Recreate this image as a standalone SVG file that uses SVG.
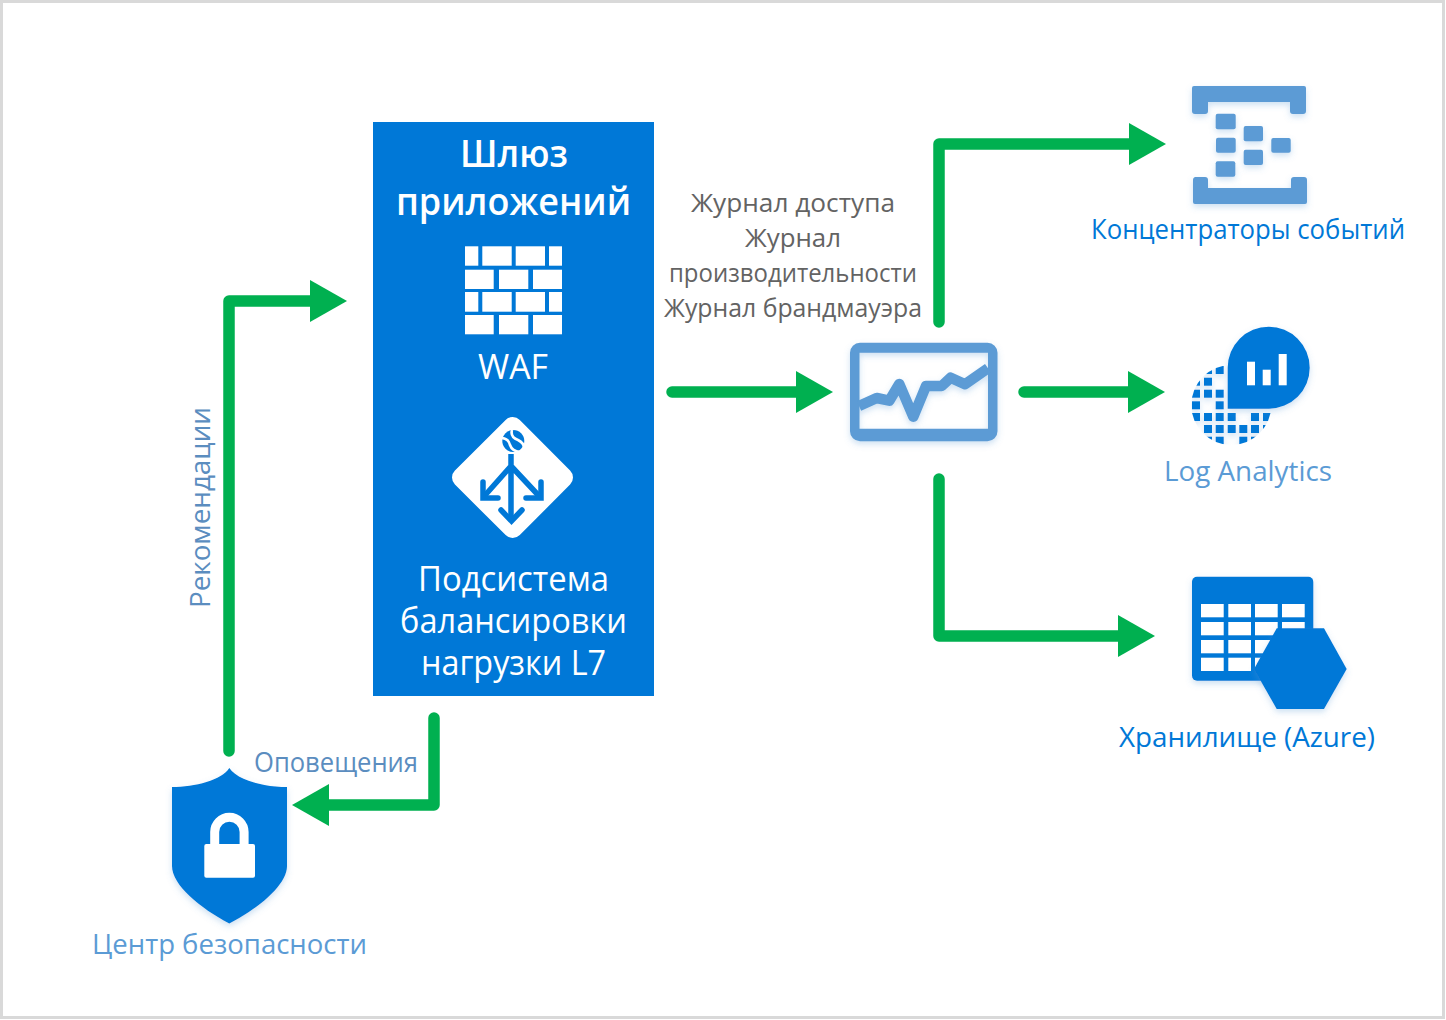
<svg xmlns="http://www.w3.org/2000/svg" width="1446" height="1020" viewBox="0 0 1446 1020">
<style>
text{font-family:"Open Sans","Noto Sans","Liberation Sans",sans-serif}
.w{fill:#fff;font-size:34px}
.t{fill:#fff;font-size:38px;font-weight:600}
.g{fill:#636363;font-size:26px}
.b{fill:#0078d7;font-size:28px}
.l{fill:#5b9bd5;font-size:28px}
.s{fill:#5b8dbf;font-size:28px}
.az{fill:#0078d7}
.lb{fill:#5b9bd5}
.wh{fill:#fff}
.link{fill:none;stroke:#00b050;stroke-width:11.5;stroke-linecap:round;stroke-linejoin:round}
.head{fill:#00b050}
</style>
<defs>
<filter id="sh" x="-15%" y="-15%" width="130%" height="130%"><feDropShadow dx="0" dy="3" stdDeviation="3" flood-color="#5b9bd5" flood-opacity="0.3"/></filter>
<clipPath id="ball"><circle cx="1231.3" cy="405" r="40"/></clipPath>
</defs>
<rect width="1446" height="1020" fill="#fff"/>
<rect x="1.5" y="1.5" width="1442" height="1016" fill="none" stroke="#d9d9d9" stroke-width="3"/>

<g id="connectors">
<path class="link" d="M229 751V301H314"/><polygon class="head" points="310,280 347,301 310,322"/>
<path class="link" d="M434 718V805H325"/><polygon class="head" points="292,805 329,784 329,826"/>
<path class="link" d="M672 392H800"/><polygon class="head" points="796,371 833,392 796,413"/>
<path class="link" d="M1024 392H1132"/><polygon class="head" points="1128,371 1165,392 1128,413"/>
<path class="link" d="M939 322V144H1132"/><polygon class="head" points="1129,123 1166,144 1129,165"/>
<path class="link" d="M939 479V636H1122"/><polygon class="head" points="1118,615 1155,636 1118,657"/>
<text class="s" transform="translate(210 608) rotate(-90)" textLength="201" lengthAdjust="spacingAndGlyphs">Рекомендации</text>
<text class="s" x="254" y="772" textLength="164" lengthAdjust="spacingAndGlyphs">Оповещения</text>
<text class="g" x="691" y="212" textLength="204" lengthAdjust="spacingAndGlyphs">Журнал доступа</text>
<text class="g" x="745" y="247" textLength="96" lengthAdjust="spacingAndGlyphs">Журнал</text>
<text class="g" x="669" y="282" textLength="248" lengthAdjust="spacingAndGlyphs">производительности</text>
<text class="g" x="664" y="317" textLength="258" lengthAdjust="spacingAndGlyphs">Журнал брандмауэра</text>
</g>

<g id="gateway">
<rect x="373" y="122" width="281" height="574" class="az"/>
<text class="t" x="460" y="167" textLength="108" lengthAdjust="spacingAndGlyphs">Шлюз</text>
<text class="t" x="396" y="215" textLength="235" lengthAdjust="spacingAndGlyphs">приложений</text>
<g class="wh">
<rect x="465" y="246.3" width="13.3" height="19.4"/><rect x="482.3" y="246.3" width="29.4" height="19.4"/><rect x="515.7" y="246.3" width="29.3" height="19.4"/><rect x="549" y="246.3" width="13" height="19.4"/>
<rect x="465" y="269.7" width="28.7" height="19.3"/><rect x="499" y="269.7" width="29.3" height="19.3"/><rect x="533" y="269.7" width="29" height="19.3"/>
<rect x="465" y="292" width="13.3" height="19.7"/><rect x="482.3" y="292" width="29.4" height="19.7"/><rect x="515.7" y="292" width="29.3" height="19.7"/><rect x="549" y="292" width="13" height="19.7"/>
<rect x="465" y="315" width="28.7" height="19.3"/><rect x="499" y="315" width="29.3" height="19.3"/><rect x="533" y="315" width="29" height="19.3"/>
</g>
<text class="w" x="478" y="379" textLength="70" lengthAdjust="spacingAndGlyphs">WAF</text>
<polygon points="512.7,427 563,477.5 512.7,528 462,477.5" fill="#fff" stroke="#fff" stroke-width="20" stroke-linejoin="round"/>
<circle cx="513.3" cy="441" r="11" class="az"/>
<path d="M502 438Q509 439 510 445Q512 451 520 452M512 430Q510 437 518 440Q524 443 524 448" fill="none" stroke="#fff" stroke-width="2.6"/>
<path d="M511 454V478M511 466L483.5 497M511 466L540 497M511 466V521" fill="none" stroke="#0078d7" stroke-width="5.5"/>
<path d="M483 482V498H498M541 482V498H526M501 510L511.5 521L522 510" fill="none" stroke="#0078d7" stroke-width="5.5" stroke-linecap="round"/>
<text class="w" x="418" y="591" textLength="191" lengthAdjust="spacingAndGlyphs">Подсистема</text>
<text class="w" x="400" y="633" textLength="227" lengthAdjust="spacingAndGlyphs">балансировки</text>
<text class="w" x="421" y="675" textLength="185" lengthAdjust="spacingAndGlyphs">нагрузки L7</text>
</g>

<g id="monitor" filter="url(#sh)">
<path class="lb" fill-rule="evenodd" d="M860 342.7H987.5a10 10 0 0 1 10 10V431.3a10 10 0 0 1-10 10H860a10 10 0 0 1-10-10V352.7a10 10 0 0 1 10-10ZM859.5 352.7V428.7H988V352.7Z"/>
<path d="M859 406L876.7 398L889.3 400.7L899.3 384L913.3 416.7L926 386H941.7L950.7 377.7L965 384.3L988 368.3" fill="none" stroke="#5b9bd5" stroke-width="10.5" stroke-linejoin="round"/>
</g>

<g id="event-hubs">
<g class="lb" filter="url(#sh)">
<path d="M1194 86H1304a2 2 0 0 1 2 2V111a3 3 0 0 1-3 3H1293a3 3 0 0 1-3-3V102H1208V111a3 3 0 0 1-3 3H1195a3 3 0 0 1-3-3V88a2 2 0 0 1 2-2Z"/>
<path d="M1195 177H1205a3 3 0 0 1 3 3V188H1291V180a3 3 0 0 1 3-3H1304a3 3 0 0 1 3 3V202a2 2 0 0 1-2 2H1195a2 2 0 0 1-2-2V180a3 3 0 0 1 2-3Z"/>
<rect x="1215.7" y="113.7" width="20" height="15.6" rx="2"/>
<rect x="1216" y="137.7" width="19.7" height="15" rx="2"/>
<rect x="1215.7" y="161.3" width="19.6" height="15.4" rx="2"/>
<rect x="1243.7" y="126" width="19.3" height="15.3" rx="2"/>
<rect x="1243.7" y="149.7" width="19.3" height="15.3" rx="2"/>
<rect x="1271.3" y="138" width="19.4" height="14.7" rx="2"/>
</g>
<text class="b" x="1091" y="239" textLength="314" lengthAdjust="spacingAndGlyphs">Концентраторы событий</text>
</g>

<g id="log-analytics">
<g class="az" clip-path="url(#ball)" filter="url(#sh)">
<rect x="1215.7" y="366" width="8" height="8"/><rect x="1204" y="366" width="8" height="8"/>
<rect x="1192" y="377.7" width="8" height="8"/><rect x="1204" y="377.7" width="8" height="8"/>
<rect x="1192" y="389.7" width="8" height="8"/><rect x="1204" y="389.7" width="8" height="8"/><rect x="1215.7" y="389.7" width="8" height="8"/>
<rect x="1192" y="401.3" width="8" height="8"/><rect x="1215.7" y="401.3" width="8" height="8"/>
<rect x="1192" y="413" width="8" height="8"/><rect x="1204" y="413" width="8" height="8"/><rect x="1215.7" y="413" width="8" height="8"/><rect x="1227.7" y="413" width="8" height="8"/><rect x="1251" y="413" width="8" height="8"/><rect x="1263" y="413" width="8" height="8"/>
<rect x="1204" y="425" width="8" height="8"/><rect x="1215.7" y="425" width="8" height="8"/><rect x="1227.7" y="425" width="8" height="8"/><rect x="1239.3" y="425" width="8" height="8"/><rect x="1251" y="425" width="8" height="8"/><rect x="1263" y="425" width="8" height="8"/>
<rect x="1204" y="436.7" width="8" height="8"/><rect x="1215.7" y="436.7" width="8" height="8"/><rect x="1239.3" y="436.7" width="8" height="8"/><rect x="1251" y="436.7" width="8" height="8"/>
</g>
<path class="az" filter="url(#sh)" d="M1227.7 408.7V367.7A41 41 0 1 1 1268.7 408.7Z"/>
<g class="wh"><rect x="1247" y="361.7" width="8" height="23.6"/><rect x="1262.7" y="369.7" width="8" height="15.6"/><rect x="1278.7" y="354" width="8" height="31.3"/></g>
<text class="l" x="1164" y="481" textLength="168" lengthAdjust="spacingAndGlyphs">Log Analytics</text>
</g>

<g id="storage">
<rect x="1192" y="576.7" width="121.3" height="104" rx="5" class="az" filter="url(#sh)"/>
<g class="wh">
<rect x="1201" y="604" width="22.7" height="13.3"/><rect x="1228.3" y="604" width="22.7" height="13.3"/><rect x="1255" y="604" width="22.7" height="13.3"/><rect x="1282" y="604" width="22.7" height="13.3"/>
<rect x="1201" y="622" width="22.7" height="13.3"/><rect x="1228.3" y="622" width="22.7" height="13.3"/><rect x="1255" y="622" width="22.7" height="13.3"/><rect x="1282" y="622" width="22.7" height="13.3"/>
<rect x="1201" y="640" width="22.7" height="13.3"/><rect x="1228.3" y="640" width="22.7" height="13.3"/><rect x="1255" y="640" width="22.7" height="13.3"/>
<rect x="1201" y="657.7" width="22.7" height="13.3"/><rect x="1228.3" y="657.7" width="22.7" height="13.3"/><rect x="1255" y="657.7" width="22.7" height="13.3"/>
</g>
<polygon class="az" filter="url(#sh)" points="1346.7,669 1324,628.3 1276.7,628.3 1254,669 1276.7,709 1324,709"/>
<text class="b" x="1119" y="747" textLength="256" lengthAdjust="spacingAndGlyphs">Хранилище (Azure)</text>
</g>

<g id="security-center">
<path class="az" filter="url(#sh)" d="M229.3 768C222 780 195 787 172 787V866C172 885 200 908 229.3 923.5C259 908 287 885 287 866V787C264 787 237 780 229.3 768Z"/>
<path d="M214.7 846V832a14.7 14.7 0 0 1 29.4 0V846" fill="none" stroke="#fff" stroke-width="9"/>
<rect x="204.3" y="844" width="50.7" height="33.7" rx="2" class="wh"/>
<text class="l" x="92" y="954" textLength="275" lengthAdjust="spacingAndGlyphs">Центр безопасности</text>
</g>
</svg>
